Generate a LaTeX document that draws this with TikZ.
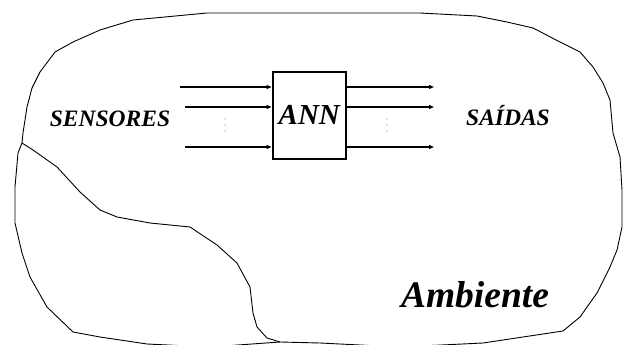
\documentclass[tikz,border=0pt]{standalone}
\usepackage{fontspec}
\newfontfamily\timesbi{Liberation Serif}
\usetikzlibrary{arrows.meta}
\tikzset{
	signal/.style={line width=1.2pt, -{Triangle[length=5pt,width=4pt]}},
	shore/.style={line width=0.9pt, line join=round},
	caption/.style={font=\timesbi\fontsize{23.5}{23.5}\selectfont\bfseries\itshape, anchor=base},
	dot/.style={circle, fill=black!50, inner sep=0pt, minimum size=1.3pt}
}

\begin{document}
\begin{tikzpicture}[x=1pt, y=-1pt]
			%%%%% START %%%%%
			\useasboundingbox (0, 0) rectangle (624, 345);
			
			% outline of the environment
			\draw[shore] (207, 13) -- (420, 13) -- (477, 16) -- (507, 22) -- (533, 28) -- (560, 42)
				-- (580, 52) -- (593, 67) -- (603, 83) -- (610, 100) -- (613, 133) -- (620, 157)
				-- (622, 190) -- (622, 227) -- (617, 250) -- (610, 267) -- (597, 293) -- (580, 317)
				-- (563, 331) -- (483, 343) -- (400, 347) -- (320, 343) -- (280, 342) -- (210, 347)
				-- (147, 344) -- (100, 337) -- (73, 332) -- (47, 307) -- (30, 277) -- (22, 253)
				-- (15, 223) -- (15, 187) -- (18, 153) -- (22, 143) -- (23, 133) -- (27, 107)
				-- (32, 88) -- (40, 72) -- (55, 52) -- (73, 42) -- (100, 30) -- (133, 20) -- cycle;
			
			% inner border
			\draw[shore] (22, 143) -- (33, 150) -- (57, 167) -- (80, 192) -- (100, 210) -- (117, 217)
				-- (150, 223) -- (190, 227) -- (217, 245) -- (237, 263) -- (250, 287) -- (253, 313)
				-- (257, 327) -- (267, 338) -- (280, 342);
			
			% network
			\node[draw, line width=2.4pt, minimum width=73pt, minimum height=87pt, inner sep=0pt,
				font=\timesbi\fontsize{29}{29}\selectfont\bfseries\itshape] (ann) at (309.3, 115.3) {ANN};
			
			\coordinate (in1) at (180, 87);
			\coordinate (in2) at (185, 107);
			\coordinate (in3) at (185, 147);
			\draw[signal] (in1) -- (in1 -| ann.west);
			\draw[signal] (in2) -- (in2 -| ann.west);
			\draw[signal] (in3) -- (in3 -| ann.west);
			
			\coordinate (out1) at (434, 87);
			\coordinate (out2) at (434, 107);
			\coordinate (out3) at (434, 147);
			\draw[signal] (out1 -| ann.east) -- (out1);
			\draw[signal] (out2 -| ann.east) -- (out2);
			\draw[signal] (out3 -| ann.east) -- (out3);
			
			% dots between the signals
			\foreach \y in {119, 125, 131} {
				\node[dot] at (225, \y) {};
				\node[dot] at (387, \y) {};
			}
			
			% labels
			\node[caption] (sensores) at (110, 126) {SENSORES};
			\node[caption] (saidas) at (508, 125) {SAÍDAS};
			\node[caption, font=\timesbi\fontsize{37.5}{37.5}\selectfont\bfseries\itshape] (ambiente) at (475, 307) {Ambiente};
			
			%%%%% END %%%%%
		\end{tikzpicture}
\end{document}
